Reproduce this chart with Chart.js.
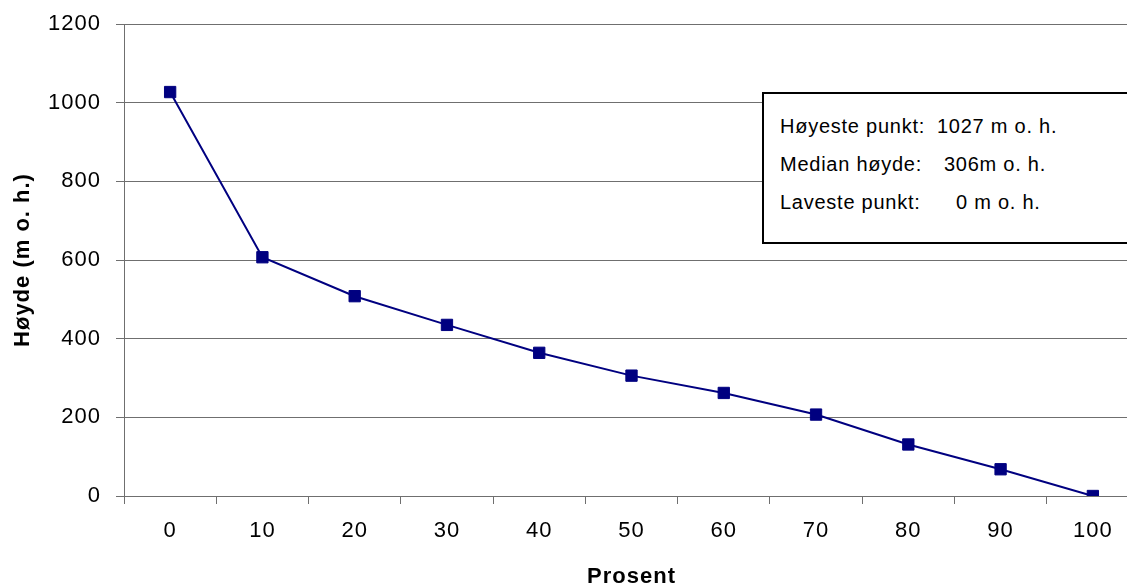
<!DOCTYPE html>
<html>
<head>
<meta charset="utf-8">
<script src="https://cdn.jsdelivr.net/npm/chart.js@4/dist/chart.umd.min.js"></script>
<style>
  html, body { margin: 0; padding: 0; background: #fff; overflow: hidden; width: 1127px; height: 588px; }
  #wrap { position: relative; width: 1148px; height: 588px; }
  #c { position: absolute; left: 0; top: 0; }
  #stats {
    position: absolute; left: 762px; top: 92px; width: 353px; height: 135px;
    border: 2px solid #000; background: #fff;
    font-family: "Liberation Sans", Arial, sans-serif; font-size: 20px; color: #000;
    letter-spacing: 0.75px;
    padding: 13px 0 0 16px; box-sizing: content-box;
  }
  #stats .row { position: relative; height: 38px; line-height: 38px; white-space: pre; }
  #stats .val { position: absolute; top: 0; }
</style>
</head>
<body>
<div id="wrap">
  <canvas id="c" width="1148" height="588"></canvas>
  <div id="stats"></div>
</div>
<script>
// ---- data ----
const categories = ['0', '10', '20', '30', '40', '50', '60', '70', '80', '90', '100'];
const heights = [1027, 607, 508, 435, 364, 306, 262, 207, 131, 68, 0];
const yTicks = [0, 200, 400, 600, 800, 1000, 1200];
const statLabels = ['Høyeste punkt:', 'Median høyde:', 'Laveste punkt:'];
const statValues = ['1027 m o. h.', '306m o. h.', '0 m o. h.'];
const xTitle = 'Prosent';
const yTitle = 'Høyde (m o. h.)';

// ---- stats box ----
const valueLeft = [157, 164, 176];
const box = document.getElementById('stats');
statLabels.forEach((lab, i) => {
  const row = document.createElement('div');
  row.className = 'row';
  const a = document.createElement('span');
  a.textContent = lab;
  const b = document.createElement('span');
  b.className = 'val';
  b.style.left = valueLeft[i] + 'px';
  b.textContent = statValues[i];
  row.appendChild(a); row.appendChild(b);
  box.appendChild(row);
});

// ---- chart ----
const FONT = '"Liberation Sans", Arial, sans-serif';
const grey = '#6f6f6f';
const spacingPlugin = {
  id: 'spacing',
  beforeDraw(chart) { try { chart.ctx.letterSpacing = '1px'; } catch (e) {} }
};
new Chart(document.getElementById('c'), {
  type: 'line',
  plugins: [spacingPlugin],
  data: {
    labels: categories,
    datasets: [{
      data: heights,
      borderColor: '#000080',
      backgroundColor: '#000080',
      borderWidth: 2,
      tension: 0,
      pointStyle: 'rect',
      pointRadius: 8,
      pointBorderWidth: 1,
      pointBackgroundColor: '#000080',
      pointBorderColor: '#000080',
      fill: false
    }]
  },
  options: {
    responsive: false,
    animation: false,
    devicePixelRatio: 1,
    layout: { padding: { top: 24, right: 1, bottom: 0, left: 0 } },
    plugins: { legend: { display: false }, tooltip: { enabled: false } },
    scales: {
      x: {
        type: 'category',
        offset: true,
        grid: { offset: true, drawOnChartArea: false, drawTicks: true, tickLength: 8, color: grey, lineWidth: 1 },
        border: { display: true, color: grey, width: 1 },
        ticks: { color: '#000', font: { family: FONT, size: 22 }, padding: 14, maxRotation: 0, autoSkip: false },
        title: { display: true, text: xTitle, color: '#000', font: { family: FONT, size: 22, weight: 'bold' }, padding: { top: 0, bottom: -2 } },
        afterFit: (s) => { s.height = 92; }
      },
      y: {
        min: 0, max: 1200,
        afterBuildTicks: (s) => { s.ticks = yTicks.map(v => ({ value: v })); },
        grid: { drawTicks: true, tickLength: 8, color: grey, lineWidth: 1 },
        border: { display: true, color: grey, width: 1 },
        ticks: { color: '#000', font: { family: FONT, size: 22 }, padding: 15, callback: (v) => String(v) },
        title: { display: true, text: yTitle, color: '#000', font: { family: FONT, size: 22, weight: 'bold' }, padding: { top: 10, bottom: 0 } },
        afterFit: (s) => { s.width = 124; s.paddingTop = 0; s.paddingBottom = 0; }
      }
    }
  }
});
</script>
</body>
</html>
